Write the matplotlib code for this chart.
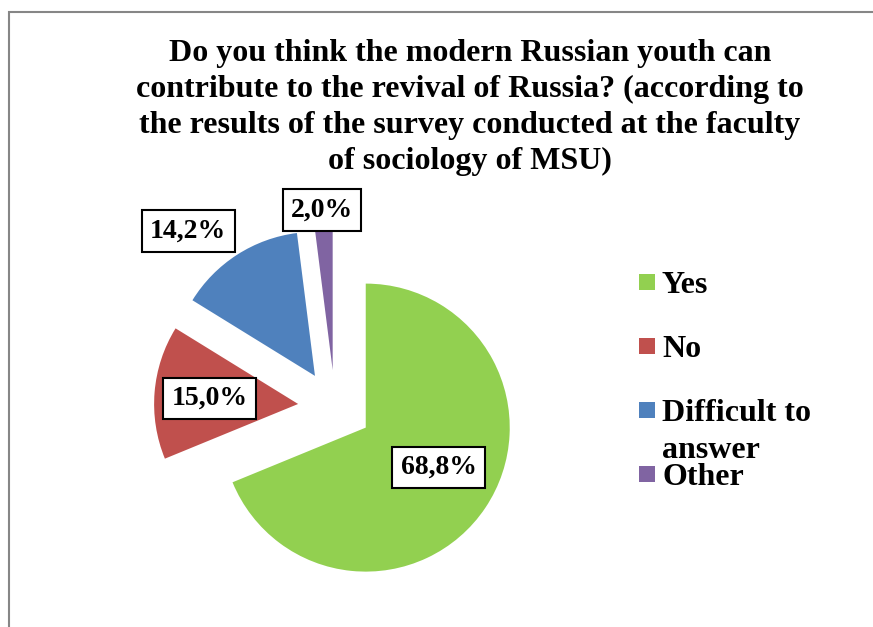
import matplotlib.pyplot as plt
from matplotlib.patches import Rectangle

# Данные опроса
categories = ['Yes', 'No', 'Difficult to\nanswer', 'Other']
shares = [68.8, 15.0, 14.2, 2.0]
colors = ['#92D050', '#C0504D', '#4F81BD', '#8064A2']
# позиции подписей (в единицах радиуса, от центра круга)
label_xy = [(0.72, -0.42), (-0.87, 0.06), (-1.02, 1.22), (-0.09, 1.37)]

title_lines = ['Do you think the modern Russian youth can',
               'contribute to the revival of Russia? (according to',
               'the results of the survey conducted at the faculty',
               'of sociology of MSU)']

W, H = 873, 627
plt.rcParams['font.family'] = ['Liberation Serif', 'DejaVu Serif']
plt.rcParams['font.weight'] = 'bold'

fig = plt.figure(figsize=(W / 100, H / 100), dpi=100)

# рамка диаграммы
fig.add_artist(Rectangle((9 / W, -0.1), 1.2, (H - 12) / H + 0.1,
                         transform=fig.transFigure, fill=False,
                         edgecolor='#868686', lw=1.5))

# круг: центр (335, 407) px, радиус 144 px
cx, cy, r = 335, 407, 144
half = 200
ax = fig.add_axes([(cx - half) / W, (H - cy - half) / H, 2 * half / W, 2 * half / H])
ax.pie(shares, colors=colors, startangle=90, counterclock=False,
       explode=[0.257] * len(shares), radius=1.0,
       wedgeprops=dict(linewidth=0))
L = half / r
ax.set_xlim(-L, L)
ax.set_ylim(-L, L)
ax.axis('off')

for v, (x, y) in zip(shares, label_xy):
    ax.text(x, y, f'{v:.1f}%'.replace('.', ','), ha='center', va='center',
            fontsize=20, fontweight='bold',
            bbox=dict(boxstyle='square,pad=0.3', fc='white', ec='black', lw=1.5))

# заголовок
for i, line in enumerate(title_lines):
    fig.text(470 / W, 1 - (61 + 36 * i) / H, line, ha='center', va='baseline',
             fontsize=23, fontweight='bold')

# легенда
for i, (cat, c) in enumerate(zip(categories, colors)):
    base = 293 + 64 * i
    fig.add_artist(Rectangle((639 / W, 1 - (base - 3) / H), 16 / W, 16 / H,
                             transform=fig.transFigure, color=c, lw=0))
    for j, part in enumerate(cat.split('\n')):
        fig.text(662 / W, 1 - (base + 37 * j) / H, part, ha='left', va='baseline',
                 fontsize=23, fontweight='bold')

fig.savefig('out.png', dpi=100)
